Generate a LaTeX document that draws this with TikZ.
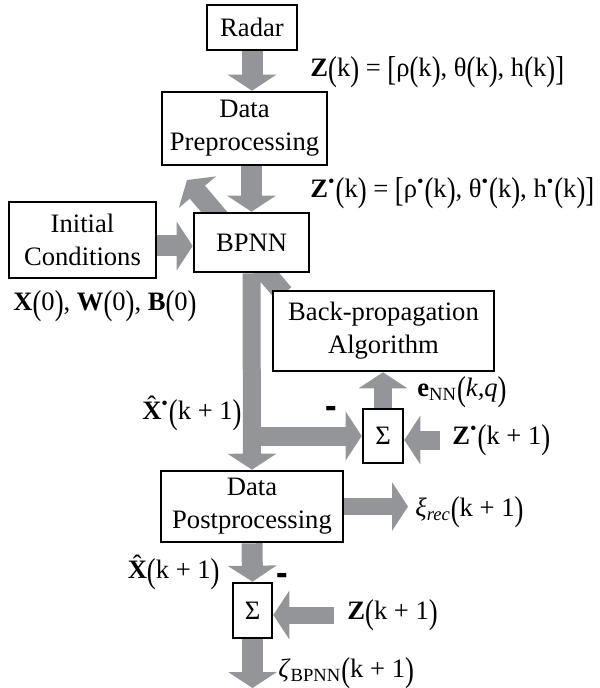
\documentclass[tikz,border=0pt]{standalone}
\usepackage{fontspec}
\setmainfont{Liberation Serif}
\usepackage{graphicx}
\usetikzlibrary{arrows.meta,backgrounds}

\definecolor{band}{RGB}{148,149,153}
\newcommand\tl[1]{\raisebox{-0.14em}{\scalebox{1}[1.3]{#1}}}
\newcommand\dotsup{\textsuperscript{•}}
\newcommand\hatX{\ooalign{\textbf{X}\cr\hidewidth\raisebox{0.2em}{ˆ}\hidewidth\cr}}
\newcommand\minus{\scalebox{1.3}[1.9]{\textbf{-}}}

\begin{document}
\begin{tikzpicture}[x=0.5pt,y=-0.5pt,font=\fontsize{13.3}{16.5}\selectfont,
    box/.style={draw,line width=1.3pt,fill=white,align=center,inner sep=0pt},
    fat/.style={draw=band,line width=10.5pt,-{Triangle[length=8pt,width=24pt]},color=band},
    lbl/.style={inner sep=0pt}]
    \useasboundingbox (0,0) rectangle (599,688);
    % blocks
    \node[box,minimum width=45pt,minimum height=22.5pt] (radar) at (252,27.5) {Radar};
    \node[box,minimum width=82.5pt,minimum height=36.5pt] (pre) at (244.5,128.5) {Data\\Preprocessing};
    \node[box,minimum width=57.5pt,minimum height=29.5pt] (bpnn) at (251.5,242.5) {BPNN};
    \node[box,minimum width=73.5pt,minimum height=38pt] (init) at (82.5,240) {Initial\\Conditions};
    \node[box,minimum width=110.5pt,minimum height=40pt] (bp) at (383.5,331) {Back-propagation\\Algorithm};
    \node[box,minimum width=20pt,minimum height=27pt] (sum1) at (383,436) {Σ};
    \node[box,minimum width=91pt,minimum height=35.5pt] (post) at (252,506.5) {Data\\Postprocessing};
    \node[box,minimum width=19.5pt,minimum height=27.5pt] (sum2) at (252.5,610.5) {Σ};
    % signals
    \node[lbl,anchor=west] (zk) at (310,72) {\textbf{Z}\tl{(}k\tl{)} = \tl{[}ρ\tl{(}k\tl{)}, θ\tl{(}k\tl{)}, h\tl{(}k\tl{)}\tl{]}};
    \node[lbl,anchor=west] (zsk) at (310,193) {\textbf{Z}\dotsup\tl{(}k\tl{)} = \tl{[}ρ\dotsup\tl{(}k\tl{)}, θ\dotsup\tl{(}k\tl{)}, h\dotsup\tl{(}k\tl{)}\tl{]}};
    \node[lbl,anchor=west] (x0) at (13,306) {\textbf{X}\tl{(}0\tl{)}, \textbf{W}\tl{(}0\tl{)}, \textbf{B}\tl{(}0\tl{)}};
    \node[lbl,anchor=east] (xhs) at (242,415) {\hatX\dotsup\tl{(}k + 1\tl{)}};
    \node[lbl] (m1) at (331,413) {\minus};
    \node[lbl,anchor=west] (enn) at (417,392) {\textbf{e}\textsubscript{NN}\tl{(}\textit{k,q}\tl{)}};
    \node[anchor=west,inner xsep=6pt,inner ysep=0pt] (zs1) at (440,440) {\textbf{Z}\dotsup\tl{(}k + 1\tl{)}};
    \node[anchor=west,inner xsep=3.5pt,inner ysep=0pt] (xi) at (408,512) {\textit{ξ}\textsubscript{\textit{rec}}\tl{(}k + 1\tl{)}};
    \node[lbl,anchor=east] (xh) at (220,574) {\hatX\tl{(}k + 1\tl{)}};
    \node[lbl] (m2) at (282,580) {\minus};
    \node[anchor=west,inner xsep=6.5pt,inner ysep=0pt] (z1) at (334,615) {\textbf{Z}\tl{(}k + 1\tl{)}};
    \node[lbl,anchor=west] (zeta) at (278,673) {\textit{ζ}\textsubscript{BPNN}\tl{(}k + 1\tl{)}};
    \coordinate (out) at (252.5,688);
    \coordinate (fb) at (187,180);
    % flows
    \begin{scope}[on background layer]
    \draw[fat] (radar.south) -- (radar.south |- pre.north);
    \draw[fat] (bpnn.north |- pre.south) -- (bpnn.north);
    \draw[fat] ([yshift=-3pt]init.east) -- ([yshift=-3pt]init.east -| bpnn.west);
    \draw[fat,line width=10pt] ([xshift=6pt,yshift=-2pt]bp.north west) -- (fb);
    \draw[fat,line width=9pt] (bpnn.south) -- (post.north);
    \draw[fat,line width=9.5pt] ([xshift=-4.5pt]bpnn.south |- sum1.west) -- (sum1.west);
    \draw[fat,line width=9pt] (sum1.north) -- (sum1.north |- bp.south);
    \draw[fat,line width=9.5pt] (zs1.west) -- (zs1.west -| sum1.east);
    \draw[fat,line width=8.5pt] (post.east) -- (post.east -| xi.west);
    \draw[fat] (post.south) -- (sum2.north);
    \draw[fat,line width=8.5pt] (z1.west) -- (z1.west -| sum2.east);
    \draw[fat] (sum2.south) -- (out);
    \end{scope}
\end{tikzpicture}
\end{document}
